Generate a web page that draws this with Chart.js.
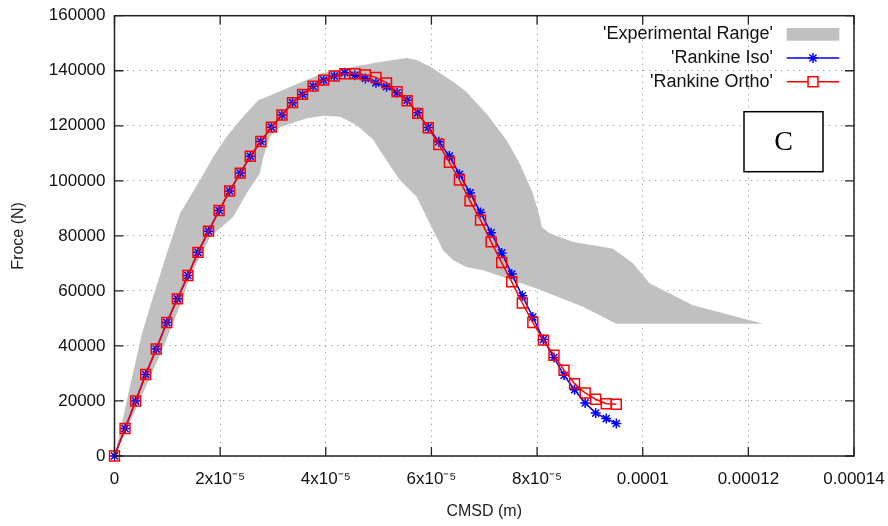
<!DOCTYPE html>
<html>
<head>
<meta charset="utf-8">
<script src="https://cdn.jsdelivr.net/npm/chart.js@4.4.0/dist/chart.umd.min.js"></script>
<style>
  html, body { margin: 0; padding: 0; background: #ffffff; }
  #wrap { width: 888px; height: 526px; }
</style>
</head>
<body>
<div id="wrap"><canvas id="c" width="888" height="526"></canvas></div>
<script>
// ---- data ----
const cmsd = [0, 2.0e-6, 4.0e-6, 5.9e-6, 7.9e-6, 9.9e-6, 11.9e-6, 13.9e-6, 15.8e-6, 17.8e-6,
  19.8e-6, 21.8e-6, 23.8e-6, 25.7e-6, 27.7e-6, 29.7e-6, 31.7e-6, 33.7e-6, 35.6e-6, 37.6e-6,
  39.6e-6, 41.6e-6, 43.6e-6, 45.5e-6, 47.5e-6, 49.5e-6, 51.5e-6, 53.5e-6, 55.4e-6, 57.4e-6,
  59.4e-6, 61.4e-6, 63.4e-6, 65.3e-6, 67.3e-6, 69.3e-6, 71.3e-6, 73.3e-6, 75.2e-6, 77.2e-6,
  79.2e-6, 81.2e-6, 83.2e-6, 85.1e-6, 87.1e-6, 89.1e-6, 91.1e-6, 93.1e-6, 95.0e-6];

const rankineIso = [0, 10000, 20000, 29600, 38900, 48500, 57100, 65600, 74000, 81700,
  89200, 96300, 102800, 108900, 114300, 119500, 123900, 128400, 131400, 134400,
  136600, 138100, 139300, 138400, 137200, 135600, 134200, 132000, 129300, 124700,
  119400, 114200, 109000, 102400, 95600, 88500, 81100, 73800, 66100, 58200,
  50500, 42300, 35800, 29300, 24100, 19300, 15600, 13600, 11800];

const rankineOrtho = [0, 10000, 20000, 29600, 38900, 48500, 57100, 65600, 74000, 81700,
  89200, 96300, 102800, 108900, 114300, 119500, 123900, 128400, 131400, 134400,
  136600, 138100, 138900, 138900, 138500, 137600, 135600, 132400, 129100, 124500,
  119300, 113200, 106700, 100300, 92700, 85700, 77800, 70300, 63300, 55600,
  48500, 42100, 36600, 31200, 26300, 22900, 20600, 19000, 18800];

// experimental range envelope (upper and lower bounds, left to right)
const expUpperX = [0, 1.0e-6, 2.9e-6, 5.2e-6, 7.3e-6, 9.9e-6, 12.4e-6, 16.2e-6, 18.7e-6, 21.2e-6,
  23.8e-6, 27.2e-6, 28.8e-6, 33.2e-6, 39.5e-6, 44.0e-6, 50.2e-6, 55.3e-6, 57.2e-6, 59.7e-6,
  64.1e-6, 66.6e-6, 70.4e-6, 74.2e-6, 76.7e-6, 79.2e-6, 80.5e-6, 80.9e-6, 82.4e-6, 86.8e-6,
  94.3e-6, 98.1e-6, 101.3e-6, 109.5e-6, 122.8e-6];
const expUpperY = [0, 8300, 25100, 44500, 57800, 73600, 88100, 100300, 108700, 116000,
  122100, 129300, 130500, 134100, 139200, 141000, 143200, 144600, 143900, 141500,
  136000, 132400, 124500, 114800, 106400, 95500, 86900, 83100, 80900, 77800,
  75400, 70100, 62800, 54800, 48100];
const expLowerX = [0, 1.4e-6, 4.8e-6, 9.0e-6, 12.8e-6, 14.3e-6, 18.1e-6, 22.5e-6, 25.0e-6, 27.5e-6,
  28.2e-6, 29.4e-6, 31.3e-6, 36.4e-6, 39.5e-6, 42.7e-6, 45.8e-6, 49.0e-6, 50.2e-6, 54.0e-6,
  57.2e-6, 60.3e-6, 62.2e-6, 64.1e-6, 66.6e-6, 69.8e-6, 79.9e-6, 88.7e-6, 95.0e-6, 122.8e-6];
const expLowerY = [0, 5700, 20300, 38400, 56600, 65100, 79600, 86900, 95400, 102700,
  108700, 116000, 119500, 122700, 123600, 123300, 120300, 114900, 111200, 100300,
  94200, 82100, 74800, 71200, 68700, 67500, 60900, 54200, 48100, 48100];

const seriesLabels = ["'Experimental Range'", "'Rankine Iso'", "'Rankine Ortho'"];
const xTickLabels = ['0', '2x10\u207B\u2075', '4x10\u207B\u2075', '6x10\u207B\u2075', '8x10\u207B\u2075', '0.0001', '0.00012', '0.00014'];
const xTitle = 'CMSD (m)';
const yTitle = 'Froce (N)';
const panelLabel = 'C';

// ---- build datasets ----
const pts = (xs, ys) => xs.map((v, i) => ({ x: v, y: ys[i] }));
const bandPoints = pts(expUpperX, expUpperY).concat(pts(expLowerX, expLowerY).reverse());
const isoPoints = pts(cmsd, rankineIso);
const orthoPoints = pts(cmsd, rankineOrtho);

const FONT = "'Liberation Sans', Arial, sans-serif";
const BAND = '#c0c0c0';
const BLUE = '#0000ff';
const RED = '#ff0000';

const framePlugin = {
  id: 'framePlugin',
  afterDraw(chart) {
    const { ctx, chartArea: a, scales } = chart;
    const xs = scales.x, ys = scales.y;
    ctx.save();
    // inward ticks on all four sides
    ctx.strokeStyle = '#222';
    ctx.lineWidth = 1.3;
    ctx.beginPath();
    xs.ticks.forEach(t => {
      const p = xs.getPixelForValue(t.value);
      ctx.moveTo(p, a.bottom); ctx.lineTo(p, a.bottom - 9);
      ctx.moveTo(p, a.top); ctx.lineTo(p, a.top + 9);
    });
    ys.ticks.forEach(t => {
      const p = ys.getPixelForValue(t.value);
      ctx.moveTo(a.left, p); ctx.lineTo(a.left + 9, p);
      ctx.moveTo(a.right, p); ctx.lineTo(a.right - 9, p);
    });
    ctx.stroke();
    ctx.lineWidth = 1.5;
    ctx.strokeRect(a.left, a.top, a.right - a.left, a.bottom - a.top);

    // legend (gnuplot style, top right inside)
    const textRight = a.right - 81;
    const sx0 = a.right - 67.3, sx1 = a.right - 14.7, sxc = (sx0 + sx1) / 2;
    ctx.font = '18px ' + FONT;
    ctx.textAlign = 'right';
    ctx.textBaseline = 'middle';
    chart.data.datasets.forEach((ds, i) => {
      const yy = a.top + 18.6 + i * 23.7;
      ctx.fillStyle = '#111';
      ctx.fillText(ds.label, textRight, yy);
      if (i === 0) {
        ctx.fillStyle = BAND;
        ctx.fillRect(sx0, yy - 6.3, sx1 - sx0, 12.7);
      } else {
        ctx.strokeStyle = ds.borderColor;
        ctx.lineWidth = 1.5;
        ctx.beginPath();
        ctx.moveTo(sx0, yy); ctx.lineTo(sx1, yy);
        ctx.stroke();
        ctx.fillStyle = '#ffffff';
        ctx.strokeStyle = ds.pointBorderColor;
        ctx.lineWidth = ds.pointBorderWidth;
        Chart.helpers.drawPoint(ctx, {
          pointStyle: ds.pointStyle, radius: ds.pointRadius, rotation: 0,
          borderWidth: ds.pointBorderWidth
        }, sxc, yy);
      }
    });

    // panel label box
    const bx0 = a.right - 110, bx1 = a.right - 31, by0 = a.top + 96, by1 = a.top + 156;
    ctx.fillStyle = '#ffffff';
    ctx.fillRect(bx0, by0, bx1 - bx0, by1 - by0);
    ctx.strokeStyle = '#000';
    ctx.lineWidth = 1.5;
    ctx.strokeRect(bx0, by0, bx1 - bx0, by1 - by0);
    ctx.fillStyle = '#000';
    ctx.font = "28px 'Liberation Serif', 'DejaVu Serif', serif";
    ctx.textAlign = 'center';
    ctx.textBaseline = 'middle';
    ctx.fillText(panelLabel, (bx0 + bx1) / 2, (by0 + by1) / 2 + 1);
    ctx.restore();
  }
};

new Chart(document.getElementById('c'), {
  type: 'scatter',
  data: {
    datasets: [
      {
        label: seriesLabels[0], data: bandPoints, showLine: true, fill: 'shape',
        backgroundColor: BAND, borderColor: 'rgba(0,0,0,0)', borderWidth: 0,
        pointRadius: 0, pointHoverRadius: 0, tension: 0, order: 3
      },
      {
        label: seriesLabels[1], data: isoPoints, showLine: true, fill: false,
        borderColor: BLUE, backgroundColor: BLUE, borderWidth: 1.5,
        pointStyle: 'star', pointRadius: 5, pointBorderWidth: 1.5,
        pointBorderColor: BLUE, pointBackgroundColor: BLUE, tension: 0, order: 2, clip: false
      },
      {
        label: seriesLabels[2], data: orthoPoints, showLine: true, fill: false,
        borderColor: RED, backgroundColor: 'rgba(0,0,0,0)', borderWidth: 1.5,
        pointStyle: 'rect', pointRadius: 7, pointBorderWidth: 1.5,
        pointBorderColor: RED, pointBackgroundColor: 'rgba(0,0,0,0)', tension: 0, order: 1, clip: false
      }
    ]
  },
  options: {
    responsive: false,
    animation: false,
    devicePixelRatio: 1,
    layout: { padding: { top: 15.7, right: 34, bottom: 0, left: 0 } },
    plugins: { legend: { display: false }, tooltip: { enabled: false } },
    scales: {
      x: {
        type: 'linear', min: 0, max: 0.00014,
        afterFit(s) { s.height = 70; s.paddingLeft = 0; s.paddingRight = 0; },
        ticks: {
          stepSize: 0.00002, autoSkip: false, maxRotation: 0, minRotation: 0,
          padding: 13, color: '#111', font: { family: FONT, size: 17 },
          callback: (v) => xTickLabels[Math.round(v / 0.00002)]
        },
        grid: { color: '#a8a8a8', lineWidth: 1, drawTicks: false },
        border: { display: false, dash: [1.5, 4.5] },
        title: { display: true, text: xTitle, color: '#222', font: { family: FONT, size: 16 }, padding: { top: 0, bottom: 5 } }
      },
      y: {
        type: 'linear', min: 0, max: 160000,
        afterFit(s) { s.width = 114.5; s.paddingTop = 0; s.paddingBottom = 0; },
        ticks: {
          stepSize: 20000, padding: 9, color: '#111', font: { family: FONT, size: 17 },
          callback: (v) => String(v)
        },
        grid: { color: '#a8a8a8', lineWidth: 1, drawTicks: false },
        border: { display: false, dash: [1.5, 4.5] },
        title: { display: true, text: yTitle, color: '#222', font: { family: FONT, size: 16 }, padding: { top: 9, bottom: 0 } }
      }
    }
  },
  plugins: [framePlugin]
});
</script>
</body>
</html>
